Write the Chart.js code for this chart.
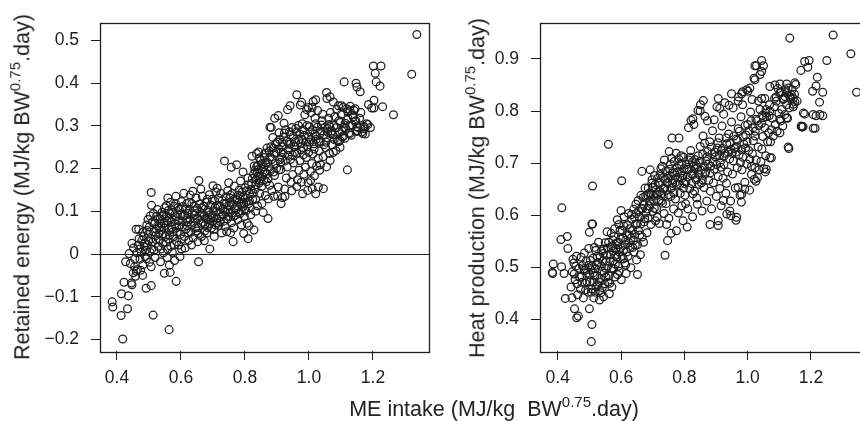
<!DOCTYPE html>
<html>
<head>
<meta charset="utf-8">
<script src="https://cdn.jsdelivr.net/npm/chart.js@4.4.1/dist/chart.umd.min.js"></script>
<style>
  html, body { margin: 0; padding: 0; background: #fff; overflow: hidden; width: 860px; height: 421px; position: relative;
    font-family: "Liberation Sans", Arial, sans-serif; color: #222; }
  canvas { position: absolute; top: 0; }
  #cLeft { left: 0; }
  #cRight { left: 440px; }
  .title { position: absolute; white-space: nowrap; font-size: 21.5px; line-height: 1; }
  .title sup { font-size: 15px; vertical-align: 0; position: relative; top: -9px; }
  .rot { transform: translate(-50%, -50%) rotate(-90deg); }
  .hor { transform: translate(-50%, -50%); }
</style>
</head>
<body>
<canvas id="cLeft" width="440" height="421"></canvas>
<canvas id="cRight" width="460" height="421"></canvas>
<div class="title rot" style="left:23px; top:187px;">Retained energy (MJ/kg BW<sup>0.75</sup>.day)</div>
<div class="title rot" style="left:478px; top:188px;">Heat production (MJ/kg BW<sup>0.75</sup>.day)</div>
<div class="title hor" style="left:494px; top:410px;">ME intake (MJ/kg&nbsp; BW<sup>0.75</sup>.day)</div>
<script>
// tick labels
const meIntakeTicks = [0.4, 0.6, 0.8, 1.0, 1.2];
const retainedTicks = [-0.2, -0.1, 0, 0.1, 0.2, 0.3, 0.4, 0.5];
const heatTicks = [0.4, 0.5, 0.6, 0.7, 0.8, 0.9];

// [ME intake, retained energy]
const retainedEnergy = [
  [0.385,-0.112],[0.387,-0.124],[0.418,-0.199],[0.413,-0.144],[0.433,-0.128],[0.414,-0.093],[0.436,-0.098],[0.422,-0.066],
  [0.427,-0.018],[0.513,-0.143],[0.563,-0.177],[0.585,-0.064],[0.507,-0.074],[0.491,-0.08],[0.655,-0.018],[0.548,-0.045],
  [0.566,-0.043],[0.507,-0.03],[0.445,-0.068],[0.447,-0.072],[0.455,-0.03],[0.46,-0.04],[0.48,-0.05],[0.564,-0.026],
  [0.507,0.144],[0.508,0.114],[0.46,0.058],[0.468,0.058],[0.447,0.025],[0.69,0.012],[0.763,0.029],[0.656,0.172],
  [0.7,0.16],[0.872,0.083],[0.913,0.118],[0.828,0.056],[0.81,0.036],[0.796,0.048],[0.755,0.05],[0.833,0.1],
  [0.98,0.141],[0.996,0.149],[1.01,0.153],[1.005,0.172],[0.89,0.135],[0.925,0.135],
  [1.337,0.514],[1.321,0.421],[1.201,0.44],[1.225,0.44],[1.207,0.423],[1.21,0.403],[1.222,0.393],[1.11,0.403],
  [1.147,0.4],[1.15,0.391],[1.16,0.38],[1.203,0.36],[1.186,0.35],[1.203,0.342],[1.23,0.345],[1.264,0.326],
  [1.12,0.197],[1.171,0.299],[1.174,0.293],
  [0.962,0.373],[1.021,0.361],[1.055,0.378],[1.066,0.368],[0.998,0.343],[1.01,0.343],[0.977,0.355],[0.941,0.347],
  [0.904,0.324],[0.878,0.297],[1.092,0.347],[1.102,0.347],[1.118,0.34],[1.128,0.336],[1.144,0.34],[1.18,0.305],
  [1.173,0.297],[1.168,0.282],[1.144,0.31],[1.15,0.298],[1.033,0.196],[1.045,0.153],[1.021,0.141],[1.029,0.157],
  [1.055,0.204],[1.066,0.219],[1.076,0.238],[1.097,0.25],[1.097,0.266],[1.108,0.277],[1.128,0.282],[1.149,0.289],
  [0.438,0.001],[0.442,-0.022],[0.452,0.014],[0.456,-0.011],[0.462,0.003],[0.466,0.021],[0.458,-0.052],[0.464,-0.036],
  [0.469,0.036],[0.451,-0.044],
  [0.472,-0.012],[0.476,0.004],[0.481,-0.025],[0.485,0.018],[0.478,0.032],[0.488,-0.006],[0.474,-0.038],[0.483,0.041],
  [0.489,0.009],[0.471,0.012],
  [0.492,-0.011],[0.495,0.022],[0.498,0.047],[0.501,0.063],[0.503,0.004],[0.497,0.081],[0.506,0.036],[0.509,0.012],
  [0.494,0.055],[0.502,-0.019],
  [0.512,0.028],[0.515,0.052],[0.518,0.071],[0.521,0.043],[0.524,0.089],[0.527,0.066],[0.514,0.095],[0.529,0.018],
  [0.519,-0.008],[0.526,0.104],[0.523,0.058],
  [0.532,0.061],[0.535,0.082],[0.538,0.012],[0.541,0.098],[0.544,0.047],[0.547,0.073],[0.549,0.108],[0.533,0.033],
  [0.536,-0.018],[0.543,0.025],[0.546,0.092],[0.539,0.056],
  [0.552,0.067],[0.555,0.089],[0.558,0.011],[0.561,0.102],[0.564,0.044],[0.567,0.121],[0.569,0.075],[0.553,0.028],
  [0.557,-0.008],[0.562,0.058],[0.566,0.094],[0.559,0.131],[0.568,0.018],
  [0.572,0.083],[0.575,0.052],[0.578,0.112],[0.581,0.071],[0.584,0.135],[0.587,0.029],[0.589,0.094],[0.573,0.004],
  [0.577,0.041],[0.583,0.118],[0.586,0.062],[0.58,-0.015],
  [0.592,0.078],[0.595,0.104],[0.598,0.046],[0.601,0.123],[0.604,0.064],[0.607,0.089],[0.609,0.142],[0.593,0.021],
  [0.597,-0.006],[0.603,0.035],[0.606,0.111],
  [0.612,0.091],[0.615,0.058],[0.618,0.118],[0.621,0.075],[0.624,0.032],[0.627,0.104],[0.629,0.138],[0.613,0.014],
  [0.617,0.083],[0.623,0.049],[0.626,0.121],
  [0.632,0.068],[0.635,0.095],[0.638,0.038],[0.641,0.112],[0.644,0.082],[0.647,0.131],[0.649,0.054],[0.633,0.021],
  [0.637,0.147],[0.643,0.101],
  [0.652,0.083],[0.655,0.062],[0.658,0.117],[0.661,0.097],[0.664,0.041],[0.667,0.135],[0.669,0.074],[0.653,0.029],
  [0.662,0.152],[0.666,0.108],
  [0.672,0.089],[0.675,0.068],[0.678,0.121],[0.681,0.049],[0.684,0.102],[0.687,0.081],[0.689,0.139],[0.673,0.031],
  [0.683,0.062],
  [0.692,0.092],[0.695,0.061],[0.698,0.128],[0.701,0.077],[0.704,0.041],[0.707,0.109],[0.709,0.145],[0.694,0.085],
  [0.703,0.058],
  [0.712,0.084],[0.715,0.113],[0.718,0.067],[0.721,0.098],[0.724,0.142],[0.727,0.049],[0.729,0.125],[0.713,0.154],
  [0.723,0.076],
  [0.732,0.091],[0.735,0.118],[0.738,0.065],[0.741,0.134],[0.744,0.082],[0.747,0.103],[0.749,0.167],[0.736,0.218],
  [0.743,0.052],[0.746,0.148],
  [0.752,0.097],[0.755,0.121],[0.758,0.073],[0.761,0.142],[0.764,0.088],[0.767,0.159],[0.769,0.108],[0.757,0.203],
  [0.765,0.061],[0.753,0.131],
  [0.772,0.104],[0.775,0.127],[0.778,0.081],[0.781,0.149],[0.784,0.095],[0.787,0.116],[0.789,0.068],[0.774,0.209],
  [0.786,0.171],[0.779,0.138],
  [0.792,0.111],[0.795,0.134],[0.798,0.088],[0.801,0.155],[0.804,0.122],[0.807,0.072],[0.809,0.178],[0.794,0.192],
  [0.803,0.101],
  [0.812,0.118],[0.815,0.141],[0.818,0.092],[0.821,0.165],[0.824,0.128],[0.827,0.187],[0.829,0.206],[0.813,0.066],
  [0.822,0.229],[0.817,0.108],
  [0.832,0.152],[0.835,0.174],[0.838,0.191],[0.841,0.208],[0.844,0.166],[0.847,0.183],[0.849,0.219],[0.833,0.128],
  [0.836,0.235],[0.842,0.198],[0.846,0.142],[0.839,0.113],[0.848,0.171],[0.843,0.239],
  [0.852,0.158],[0.855,0.181],[0.858,0.204],[0.861,0.226],[0.864,0.137],[0.867,0.169],[0.869,0.248],[0.853,0.118],
  [0.862,0.192],[0.857,0.097],[0.866,0.214],
  [0.872,0.176],[0.875,0.203],[0.878,0.227],[0.881,0.251],[0.884,0.149],[0.887,0.273],[0.889,0.192],[0.873,0.129],
  [0.882,0.296],[0.877,0.161],
  [0.892,0.184],[0.895,0.212],[0.898,0.238],[0.901,0.262],[0.904,0.157],[0.907,0.284],[0.909,0.221],[0.893,0.318],
  [0.902,0.136],[0.906,0.197],
  [0.912,0.198],[0.915,0.226],[0.918,0.251],[0.921,0.274],[0.924,0.152],[0.927,0.291],[0.929,0.178],[0.913,0.238],
  [0.922,0.306],[0.917,0.132],
  [0.932,0.204],[0.935,0.231],[0.938,0.257],[0.941,0.279],[0.944,0.168],[0.947,0.296],[0.949,0.186],[0.933,0.338],
  [0.942,0.221],[0.946,0.148],
  [0.952,0.213],[0.955,0.238],[0.958,0.262],[0.961,0.286],[0.964,0.174],[0.967,0.301],[0.969,0.196],[0.953,0.252],
  [0.962,0.158],
  [0.972,0.219],[0.975,0.244],[0.978,0.268],[0.981,0.291],[0.984,0.187],[0.987,0.326],[0.989,0.203],[0.973,0.349],
  [0.982,0.232],[0.976,0.168],
  [0.992,0.226],[0.995,0.251],[0.998,0.274],[1.001,0.298],[1.004,0.193],[1.007,0.331],[1.009,0.212],[0.993,0.338],
  [1.002,0.262],[0.997,0.167],
  [1.012,0.234],[1.015,0.258],[1.018,0.281],[1.021,0.305],[1.024,0.206],[1.027,0.336],[1.029,0.224],[1.013,0.357],
  [1.022,0.268],[1.017,0.183],
  [1.032,0.241],[1.035,0.264],[1.038,0.288],[1.041,0.312],[1.044,0.228],[1.047,0.256],[1.049,0.296],[1.036,0.209],
  [1.043,0.327],
  [1.052,0.249],[1.055,0.272],[1.058,0.294],[1.061,0.318],[1.064,0.236],[1.067,0.331],[1.069,0.281],[1.056,0.364],
  [1.063,0.303],
  [1.072,0.256],[1.075,0.279],[1.078,0.301],[1.081,0.322],[1.084,0.242],[1.087,0.338],[1.089,0.265],[1.076,0.356],
  [1.092,0.263],[1.095,0.286],[1.098,0.308],[1.101,0.327],[1.104,0.274],[1.107,0.343],[1.109,0.296],
  [1.112,0.271],[1.115,0.294],[1.118,0.314],[1.121,0.333],[1.124,0.283],[1.127,0.301],[1.129,0.346],
  [1.132,0.278],[1.135,0.302],[1.138,0.321],[1.141,0.336],[1.146,0.312],[1.149,0.287],
  [1.153,0.296],[1.158,0.318],[1.162,0.331],[1.166,0.286],
  [1.176,0.281],[1.184,0.303],[1.192,0.296],[1.196,0.342],
  [0.481,0.051],[0.487,0.026],[0.493,0.068],[0.499,0.031],[0.504,0.089],[0.511,0.075],[0.516,0.009],[0.522,0.034],
  [0.528,0.082],[0.531,0.047],[0.537,0.071],[0.542,0.088],[0.545,0.003],[0.548,0.061],[0.551,0.041],[0.554,0.113],
  [0.556,0.078],[0.56,0.035],[0.563,0.084],[0.571,0.062],[0.574,0.098],[0.579,0.022],[0.582,0.087],[0.588,0.051],
  [0.591,0.109],[0.594,0.066],[0.599,0.091],[0.602,0.012],[0.605,0.076],[0.611,0.041],[0.614,0.105],[0.619,0.066],
  [0.622,0.095],[0.628,0.081],[0.631,0.051],[0.634,0.118],[0.639,0.074],[0.642,0.091],[0.646,0.061],[0.651,0.107],
  [0.654,0.048],[0.659,0.089],[0.663,0.072],[0.668,0.095],[0.671,0.112],[0.674,0.054],[0.679,0.082],[0.682,0.128],
  [0.686,0.097],[0.691,0.071],[0.693,0.115],[0.697,0.089],[0.702,0.101],[0.705,0.124],[0.708,0.068],[0.711,0.099],
  [0.714,0.072],[0.717,0.131],[0.722,0.112],[0.726,0.088],[0.731,0.105],[0.734,0.077],[0.739,0.098],[0.742,0.119],
  [0.748,0.088],[0.751,0.112],[0.754,0.138],[0.759,0.096],[0.762,0.117],[0.768,0.129],[0.771,0.091],[0.776,0.113],
  [0.782,0.122],[0.785,0.136],[0.788,0.101],[0.791,0.145],[0.796,0.119],[0.799,0.104],[0.802,0.131],[0.806,0.148],
  [0.811,0.162],[0.814,0.124],[0.819,0.151],[0.823,0.177],[0.826,0.142],[0.831,0.196],[0.834,0.162],[0.837,0.205],
  [0.84,0.182],[0.845,0.225],[0.851,0.199],[0.854,0.212],[0.859,0.174],[0.863,0.236],[0.868,0.188],[0.871,0.214],
  [0.876,0.241],[0.879,0.195],[0.883,0.221],[0.888,0.248],[0.891,0.235],[0.896,0.258],[0.899,0.201],[0.905,0.246],
  [0.908,0.268],[0.911,0.214],[0.916,0.261],[0.919,0.238],[0.923,0.283],[0.926,0.218],[0.931,0.264],[0.936,0.244],
  [0.939,0.286],[0.943,0.258],[0.948,0.232],[0.951,0.275],[0.956,0.251],[0.959,0.294],[0.963,0.236],[0.968,0.268],
  [0.971,0.281],[0.974,0.258],[0.979,0.305],[0.983,0.248],[0.986,0.278],[0.991,0.262],[0.994,0.301],[0.999,0.238],
  [1.003,0.286],[1.006,0.268],[1.011,0.291],[1.016,0.246],[1.019,0.318],[1.023,0.276],[1.026,0.297],[1.031,0.262],
  [1.034,0.283],[1.039,0.302],[1.046,0.278],[1.053,0.262],[1.059,0.285],[1.065,0.298],[1.071,0.288],[1.079,0.268],
  [1.086,0.296],[1.094,0.312],[1.103,0.288],[1.113,0.306],[1.122,0.318],[1.136,0.326]
];

// [ME intake, heat production]
const heatProduction = [
  [1.133,0.94],[1.27,0.946],[1.326,0.91],[1.344,0.836],[1.25,0.897],[1.18,0.895],[1.194,0.897],[1.19,0.884],
  [1.168,0.878],[1.22,0.865],[1.216,0.848],[1.237,0.836],[1.227,0.817],[1.205,0.838],[1.216,0.791],[1.237,0.791],
  [1.213,0.767],[1.17,0.77],[1.175,0.77],[1.13,0.728],[1.18,0.794],[1.044,0.897],[1.05,0.887],[1.023,0.887],
  [1.028,0.887],[1.044,0.876],[1.02,0.863],
  [0.56,0.736],[0.51,0.656],[0.602,0.666],[0.413,0.614],[0.41,0.553],[0.43,0.559],[0.432,0.536],[0.386,0.506],
  [0.383,0.49],[0.384,0.488],[0.412,0.501],[0.42,0.488],[0.424,0.44],[0.445,0.441],[0.453,0.42],[0.46,0.403],
  [0.465,0.406],[0.508,0.39],[0.506,0.357],[0.5,0.42],[0.5,0.567],[0.508,0.583],[0.51,0.583],[0.739,0.523],
  [0.652,0.486],[0.747,0.551],[0.775,0.57],[0.881,0.582],[0.907,0.58],[0.963,0.59],[0.98,0.625],[0.947,0.599],
  [1.039,0.87],[1.023,0.86],[1.007,0.844],[0.997,0.841],[0.984,0.837],[0.949,0.833],[0.981,0.833],[0.97,0.819],
  [0.907,0.824],[0.928,0.816],[0.912,0.805],[0.86,0.82],[0.85,0.8],[0.865,0.79],[0.827,0.785],[0.83,0.774],
  [1.07,0.847],[1.086,0.85],[1.102,0.852],[1.123,0.852],[1.149,0.854],[1.102,0.835],[1.123,0.835],[1.133,0.828],
  [1.144,0.824],[1.091,0.819],[1.112,0.822],[1.149,0.818],[1.144,0.808],[1.044,0.824],[1.054,0.824],[1.034,0.819],
  [1.07,0.8],[1.049,0.787],[1.102,0.784],[1.123,0.787],[1.057,0.796],[1.176,0.796],[1.207,0.793],[1.228,0.793],
  [1.169,0.771],[1.172,0.769],[1.207,0.767],[1.128,0.731],[1.07,0.71],[1.075,0.71],[1.059,0.688],[1.023,0.691],
  [1.012,0.678],[1.026,0.665],[0.981,0.64],[0.97,0.653],[0.991,0.65],[0.965,0.596],[0.934,0.602],[0.944,0.608],
  [0.907,0.589],[0.923,0.628],
  [0.442,0.462],[0.446,0.491],[0.451,0.508],[0.455,0.476],[0.459,0.521],[0.463,0.447],[0.467,0.498],[0.448,0.515],
  [0.472,0.458],[0.475,0.482],[0.478,0.503],[0.481,0.441],[0.484,0.527],[0.487,0.469],[0.49,0.512],[0.493,0.489],
  [0.496,0.452],[0.498,0.536],[0.474,0.519],[0.486,0.494],
  [0.502,0.472],[0.505,0.495],[0.508,0.458],[0.511,0.517],[0.514,0.441],[0.517,0.483],[0.52,0.532],[0.523,0.504],
  [0.526,0.466],[0.529,0.548],[0.503,0.513],[0.512,0.489],[0.518,0.452],[0.525,0.521],
  [0.532,0.437],[0.535,0.478],[0.538,0.502],[0.541,0.461],[0.544,0.526],[0.547,0.489],[0.55,0.547],[0.553,0.512],
  [0.556,0.568],[0.559,0.471],[0.533,0.455],[0.539,0.531],[0.545,0.443],[0.551,0.498],[0.557,0.537],
  [0.562,0.483],[0.565,0.511],[0.568,0.538],[0.571,0.462],[0.574,0.552],[0.577,0.497],[0.58,0.574],[0.583,0.523],
  [0.586,0.546],[0.589,0.486],[0.563,0.449],[0.569,0.565],[0.576,0.531],[0.582,0.506],[0.588,0.591],
  [0.592,0.502],[0.595,0.529],[0.598,0.554],[0.601,0.476],[0.604,0.571],[0.607,0.516],[0.61,0.597],[0.613,0.543],
  [0.616,0.488],[0.619,0.562],[0.593,0.582],[0.6,0.609],[0.608,0.532],[0.614,0.504],
  [0.622,0.521],[0.625,0.547],[0.628,0.574],[0.631,0.499],[0.634,0.592],[0.637,0.538],[0.64,0.611],[0.643,0.563],
  [0.646,0.582],[0.649,0.514],[0.624,0.603],[0.632,0.556],[0.641,0.529],[0.647,0.621],
  [0.652,0.543],[0.655,0.571],[0.658,0.596],[0.661,0.524],[0.664,0.613],[0.667,0.558],[0.67,0.634],[0.673,0.587],
  [0.676,0.652],[0.679,0.604],[0.654,0.628],[0.662,0.583],[0.671,0.548],[0.666,0.684],
  [0.682,0.566],[0.685,0.594],[0.688,0.618],[0.691,0.643],[0.694,0.582],[0.697,0.661],[0.7,0.607],[0.703,0.628],
  [0.706,0.676],[0.709,0.589],[0.684,0.638],[0.693,0.622],[0.701,0.653],[0.692,0.687],
  [0.712,0.612],[0.715,0.638],[0.718,0.661],[0.721,0.584],[0.724,0.678],[0.727,0.627],[0.73,0.694],[0.733,0.651],
  [0.736,0.603],[0.739,0.669],[0.714,0.596],[0.722,0.645],[0.731,0.623],[0.737,0.706],
  [0.742,0.622],[0.745,0.648],[0.748,0.671],[0.751,0.594],[0.754,0.688],[0.757,0.636],[0.76,0.709],[0.763,0.661],
  [0.766,0.612],[0.769,0.681],[0.744,0.582],[0.752,0.722],[0.761,0.748],[0.767,0.642],[0.758,0.565],
  [0.772,0.631],[0.775,0.658],[0.778,0.683],[0.781,0.604],[0.784,0.697],[0.787,0.642],[0.79,0.714],[0.793,0.671],
  [0.796,0.589],[0.799,0.689],[0.774,0.719],[0.783,0.748],[0.792,0.618],[0.797,0.652],
  [0.802,0.638],[0.805,0.664],[0.808,0.688],[0.811,0.612],[0.814,0.706],[0.817,0.651],[0.82,0.724],[0.823,0.679],
  [0.826,0.597],[0.829,0.694],[0.804,0.622],[0.813,0.768],[0.821,0.782],[0.827,0.641],[0.809,0.577],
  [0.832,0.646],[0.835,0.672],[0.838,0.697],[0.841,0.621],[0.844,0.714],[0.847,0.659],[0.85,0.732],[0.853,0.686],
  [0.856,0.608],[0.859,0.752],[0.834,0.689],[0.843,0.801],[0.851,0.812],[0.857,0.668],[0.839,0.633],
  [0.862,0.653],[0.865,0.679],[0.868,0.704],[0.871,0.627],[0.874,0.722],[0.877,0.667],[0.88,0.741],[0.883,0.694],
  [0.886,0.612],[0.889,0.762],[0.864,0.738],[0.873,0.781],[0.882,0.646],[0.887,0.718],
  [0.892,0.662],[0.895,0.688],[0.898,0.712],[0.901,0.636],[0.904,0.729],[0.907,0.674],[0.91,0.748],[0.913,0.701],
  [0.916,0.618],[0.919,0.771],[0.894,0.783],[0.903,0.808],[0.912,0.651],[0.917,0.724],
  [0.922,0.671],[0.925,0.697],[0.928,0.719],[0.931,0.642],[0.934,0.737],[0.937,0.683],[0.94,0.756],[0.943,0.708],
  [0.946,0.627],[0.949,0.779],[0.924,0.794],[0.933,0.661],[0.941,0.811],[0.947,0.726],
  [0.952,0.679],[0.955,0.704],[0.958,0.728],[0.961,0.652],[0.964,0.746],[0.967,0.691],[0.97,0.766],[0.973,0.716],
  [0.976,0.638],[0.979,0.789],[0.954,0.806],[0.963,0.721],[0.971,0.827],[0.977,0.701],
  [0.982,0.687],[0.985,0.711],[0.988,0.736],[0.991,0.663],[0.994,0.754],[0.997,0.698],[1.0,0.774],[1.003,0.724],
  [1.006,0.648],[1.009,0.798],[0.984,0.812],[0.993,0.729],[1.001,0.838],[1.007,0.707],
  [1.012,0.694],[1.015,0.718],[1.018,0.743],[1.021,0.669],[1.024,0.761],[1.027,0.706],[1.03,0.781],[1.033,0.731],
  [1.036,0.687],[1.039,0.803],[1.014,0.822],[1.023,0.752],[1.031,0.672],
  [1.042,0.703],[1.045,0.727],[1.048,0.751],[1.051,0.689],[1.054,0.768],[1.057,0.714],[1.06,0.789],[1.063,0.741],
  [1.066,0.758],[1.069,0.812],[1.044,0.776],[1.056,0.683],
  [1.072,0.741],[1.075,0.764],[1.078,0.786],[1.081,0.752],[1.084,0.808],[1.087,0.774],[1.09,0.827],[1.093,0.761],
  [1.096,0.843],[1.099,0.795],
  [1.102,0.758],[1.105,0.781],[1.108,0.803],[1.111,0.771],[1.114,0.824],[1.117,0.793],[1.12,0.841],[1.123,0.812],
  [1.126,0.786],
  [1.132,0.806],[1.136,0.823],[1.14,0.841],[1.144,0.813],[1.148,0.832],[1.152,0.851],[1.156,0.819],
  [0.452,0.487],[0.457,0.502],[0.461,0.468],[0.469,0.481],[0.477,0.471],[0.483,0.497],[0.488,0.456],[0.492,0.472],
  [0.497,0.503],[0.501,0.486],[0.506,0.452],[0.509,0.503],[0.513,0.471],[0.516,0.538],[0.519,0.497],[0.521,0.463],
  [0.524,0.484],[0.527,0.509],[0.531,0.471],[0.534,0.519],[0.536,0.451],[0.54,0.492],[0.543,0.512],[0.546,0.535],
  [0.548,0.468],[0.552,0.481],[0.554,0.523],[0.558,0.502],[0.561,0.548],[0.564,0.469],[0.567,0.524],[0.57,0.498],
  [0.573,0.541],[0.575,0.512],[0.578,0.559],[0.581,0.481],[0.584,0.536],[0.587,0.519],[0.591,0.548],[0.594,0.492],
  [0.597,0.571],[0.599,0.538],[0.603,0.521],[0.606,0.556],[0.609,0.579],[0.612,0.508],[0.615,0.552],[0.618,0.529],
  [0.621,0.581],[0.626,0.562],[0.629,0.538],[0.633,0.601],[0.636,0.571],[0.639,0.551],[0.642,0.596],[0.645,0.542],
  [0.648,0.603],[0.651,0.584],[0.656,0.607],[0.659,0.562],[0.663,0.638],[0.668,0.612],[0.672,0.621],[0.675,0.593],
  [0.678,0.637],[0.683,0.612],[0.686,0.652],[0.69,0.627],[0.695,0.641],[0.698,0.668],[0.702,0.638],[0.705,0.613],
  [0.708,0.659],[0.711,0.641],[0.716,0.671],[0.719,0.629],[0.723,0.662],[0.726,0.689],[0.729,0.641],[0.734,0.672],
  [0.738,0.651],[0.741,0.684],[0.746,0.662],[0.749,0.639],[0.753,0.676],[0.756,0.698],[0.759,0.652],[0.762,0.681],
  [0.765,0.668],[0.768,0.703],[0.771,0.662],[0.776,0.691],[0.779,0.672],[0.782,0.708],[0.785,0.659],[0.788,0.681],
  [0.791,0.697],[0.795,0.676],[0.798,0.711],[0.801,0.661],[0.806,0.697],[0.81,0.673],[0.815,0.688],[0.818,0.711],
  [0.822,0.661],[0.825,0.702],[0.828,0.678],[0.833,0.707],[0.837,0.668],[0.842,0.692],[0.846,0.678],[0.849,0.703],
  [0.854,0.662],[0.858,0.717],[0.863,0.694],[0.867,0.683],[0.872,0.712],[0.876,0.698],[0.881,0.681],[0.885,0.731],
  [0.891,0.702],[0.896,0.721],[0.902,0.697],[0.906,0.739],[0.911,0.714],[0.915,0.692],[0.921,0.728],[0.926,0.714],
  [0.932,0.748],[0.938,0.721],[0.944,0.738],[0.951,0.719],[0.957,0.752],[0.962,0.731],[0.968,0.744],[0.974,0.761],
  [0.981,0.726],[0.986,0.751],[0.992,0.772],[0.998,0.741],[1.004,0.762],[1.011,0.781],[1.017,0.768],[1.026,0.784],
  [1.035,0.772],[1.047,0.792],[1.058,0.803],[1.068,0.791],[1.085,0.824],[1.106,0.836],[1.118,0.828],[1.128,0.844],
  [1.138,0.831]
];

const INK = '#1e1e1e';
const FONT = '"Liberation Sans", Arial, sans-serif';

// frame around the plot area, plus the optional zero reference line
const framePlugin = {
  id: 'frame',
  beforeDatasetsDraw(chart, args, opts) {
    if (!opts.zero) return;
    const a = chart.chartArea;
    const y = Math.round(chart.scales.y.getPixelForValue(0)) + 0.5;
    const ctx = chart.ctx;
    ctx.save();
    ctx.strokeStyle = INK;
    ctx.lineWidth = 1;
    ctx.beginPath();
    ctx.moveTo(a.left, y);
    ctx.lineTo(a.right, y);
    ctx.stroke();
    ctx.restore();
  },
  afterDraw(chart) {
    const a = chart.chartArea;
    const ctx = chart.ctx;
    ctx.save();
    ctx.strokeStyle = INK;
    ctx.lineWidth = 1.3;
    ctx.strokeRect(Math.round(a.left) + 0.5, Math.round(a.top) + 0.5,
      Math.round(a.right - a.left), Math.round(a.bottom - a.top));
    ctx.restore();
  }
};

function makePanel(canvasId, points, xRange, yRange, yTicks, yLabel, padRight, zero) {
  new Chart(document.getElementById(canvasId), {
    type: 'scatter',
    data: {
      datasets: [{
        data: points.map(p => ({ x: p[0], y: p[1] })),
        pointStyle: 'circle',
        pointRadius: 3.9,
        borderWidth: 1.25,
        borderColor: INK,
        backgroundColor: 'rgba(0,0,0,0)'
      }]
    },
    options: {
      responsive: false,
      animation: false,
      events: [],
      layout: { autoPadding: false, padding: { left: 0, right: padRight, top: 21, bottom: 0 } },
      plugins: { legend: { display: false }, tooltip: { enabled: false }, frame: { zero: zero } },
      scales: {
        x: {
          type: 'linear', min: xRange[0], max: xRange[1],
          afterBuildTicks: s => { s.ticks = meIntakeTicks.map(v => ({ value: v })); },
          afterFit: s => { s.height = 70; },
          border: { display: false },
          grid: { drawOnChartArea: false, tickLength: 9, color: INK, lineWidth: 1 },
          ticks: { font: { size: 17.5, family: FONT }, color: INK, padding: 8, maxRotation: 0, autoSkip: false,
            callback: v => Number(v).toFixed(1) }
        },
        y: {
          type: 'linear', min: yRange[0], max: yRange[1],
          afterBuildTicks: s => { s.ticks = yTicks.map(v => ({ value: v })); },
          afterFit: s => { s.width = 100; },
          border: { display: false },
          grid: { drawOnChartArea: false, tickLength: 9, color: INK, lineWidth: 1 },
          ticks: { font: { size: 17.5, family: FONT }, color: INK, padding: 12, autoSkip: false, callback: yLabel }
        }
      }
    },
    plugins: [framePlugin]
  });
}

const reLabel = v => v === 0 ? '0' : Number(v).toFixed(1).replace('-', '\u2212');
const hpLabel = v => Number(v).toFixed(1);

makePanel('cLeft', retainedEnergy, [0.347, 1.375], [-0.227, 0.542], retainedTicks, reLabel, 11, true);
makePanel('cRight', heatProduction, [0.344, 1.418], [0.339, 0.97], heatTicks, hpLabel, 20, false);
</script>
</body>
</html>
